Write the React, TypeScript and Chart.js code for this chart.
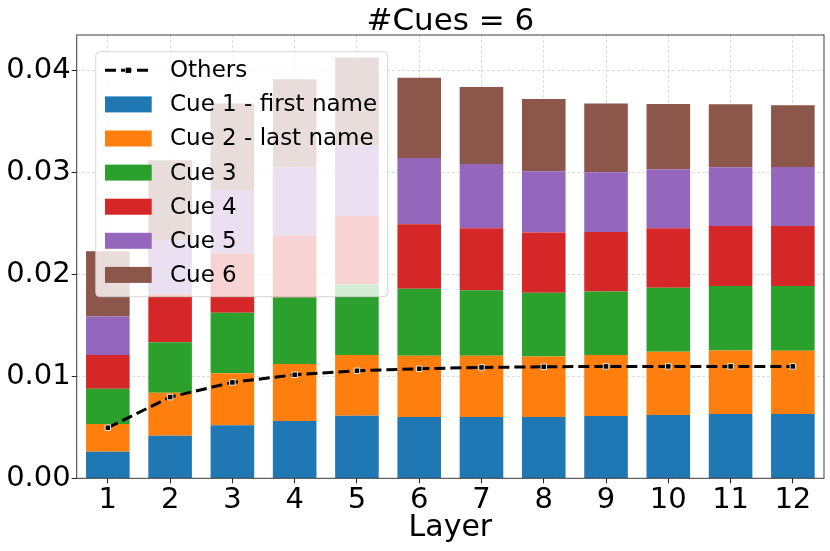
import { useEffect, useRef } from "react";
import { Chart, registerables } from "chart.js";

Chart.register(...registerables);

const layers = ["1", "2", "3", "4", "5", "6", "7", "8", "9", "10", "11", "12"];
const cueNames = ["Cue 1 - first name", "Cue 2 - last name", "Cue 3", "Cue 4", "Cue 5", "Cue 6"];
const cueColors = ["#1f77b4", "#ff7f0e", "#2ca02c", "#d62728", "#9467bd", "#8c564b"];

const cue1 = [0.00261, 0.00418, 0.0052, 0.00562, 0.00614, 0.00601, 0.00601, 0.00601, 0.00611, 0.00621, 0.0063, 0.0063];
const cue2 = [0.00271, 0.00421, 0.00512, 0.00559, 0.00595, 0.00601, 0.00601, 0.00595, 0.00598, 0.0062, 0.00625, 0.00621];
const cue3 = [0.00346, 0.00497, 0.00592, 0.00654, 0.00696, 0.00657, 0.00644, 0.00624, 0.00624, 0.00628, 0.00633, 0.00637];
const cue4 = [0.00331, 0.0047, 0.00582, 0.0061, 0.0067, 0.00634, 0.00608, 0.00592, 0.00585, 0.00585, 0.00588, 0.00588];
const cue5 = [0.00379, 0.0053, 0.00623, 0.00667, 0.0069, 0.0065, 0.0063, 0.00601, 0.00585, 0.00578, 0.00576, 0.00579];
const cue6 = [0.0064, 0.00785, 0.0085, 0.00863, 0.00865, 0.00788, 0.00755, 0.00709, 0.00676, 0.00641, 0.00618, 0.00605];
const others = [0.00496, 0.00797, 0.00941, 0.01016, 0.01055, 0.01075, 0.01088, 0.01094, 0.01098, 0.01098, 0.01098, 0.01098];

const yTicks = [0, 0.01, 0.02, 0.03, 0.04];
const cueValues = [cue1, cue2, cue3, cue4, cue5, cue6];

const FONT = "'DejaVu Sans', sans-serif";
const TITLE = "#Cues = 6";

// title centred on the axes, frame, and a matplotlib-style legend over the bars
const boxLegend = {
    id: "boxLegend",
    afterDraw(chart: any) {
        const { ctx, chartArea } = chart;
        ctx.save();

        ctx.fillStyle = "#000";
        ctx.font = `31px ${FONT}`;
        ctx.textAlign = "center";
        ctx.textBaseline = "alphabetic";
        ctx.fillText(TITLE, (chartArea.left + chartArea.right) / 2, chartArea.top - 5);

        ctx.strokeStyle = "#3c3c3c";
        ctx.lineWidth = 1;
        ctx.setLineDash([]);
        ctx.strokeRect(chartArea.left, chartArea.top, chartArea.right - chartArea.left, chartArea.bottom - chartArea.top);

        const x = chartArea.left + 19;
        const y = chartArea.top + 16.7;
        const w = 292;
        const h = 245;
        ctx.beginPath();
        ctx.roundRect(x, y, w, h, 4);
        ctx.fillStyle = "rgba(255,255,255,0.8)";
        ctx.fill();
        ctx.strokeStyle = "rgba(204,204,204,0.8)";
        ctx.stroke();

        const rowGap = 34.1;
        const firstRow = y + 18.6;
        const sx = x + 9.3;
        const sw = 46.7;
        const tx = x + 74.3;

        ctx.font = `23px ${FONT}`;
        ctx.textBaseline = "middle";
        ctx.textAlign = "left";

        // Others: dashed line with a square marker
        ctx.strokeStyle = "#000";
        ctx.lineWidth = 3;
        ctx.setLineDash([11, 5]);
        ctx.beginPath();
        ctx.moveTo(sx, firstRow);
        ctx.lineTo(sx + sw, firstRow);
        ctx.stroke();
        ctx.setLineDash([]);
        ctx.fillStyle = "#e8e8e8";
        ctx.fillRect(sx + sw / 2 - 3.3, firstRow - 3.3, 6.6, 6.6);
        ctx.fillStyle = "#000";
        ctx.fillRect(sx + sw / 2 - 2.6, firstRow - 2.6, 5.2, 5.2);
        ctx.fillText("Others", tx, firstRow + 1);

        cueNames.forEach((name, i) => {
            const cy = firstRow + rowGap * (i + 1);
            ctx.fillStyle = cueColors[i];
            ctx.fillRect(sx, cy - 8, sw, 16);
            ctx.fillStyle = "#000";
            ctx.fillText(name, tx, cy + 1);
        });

        ctx.restore();
    },
};

export default function App() {
    const canvasRef = useRef<HTMLCanvasElement | null>(null);
    const chartRef = useRef<Chart | null>(null);

    useEffect(() => {
        if (!canvasRef.current) return;
        if (chartRef.current) chartRef.current.destroy();

        const barSets: any[] = cueValues.map((vals, i) => ({
            type: "bar",
            label: cueNames[i],
            data: vals,
            backgroundColor: cueColors[i],
            borderWidth: 0,
            stack: "cues",
            barPercentage: 0.7,
            categoryPercentage: 1.0,
            order: 2,
        }));

        chartRef.current = new Chart(canvasRef.current, {
            type: "bar",
            data: {
                labels: layers,
                datasets: [
                    {
                        type: "line",
                        label: "Others",
                        data: others,
                        borderColor: "#000",
                        borderWidth: 3,
                        borderDash: [11, 5],
                        pointStyle: "rect",
                        pointRadius: 3.9,
                        pointBackgroundColor: "#000",
                        pointBorderColor: "#e8e8e8",
                        pointBorderWidth: 1,
                        tension: 0,
                        stack: "others",
                        order: 0,
                    } as any,
                    ...barSets,
                ],
            },
            options: {
                animation: false,
                responsive: true,
                maintainAspectRatio: false,
                layout: { padding: { left: 0, right: 6, top: 35, bottom: 0 } },
                plugins: {
                    legend: { display: false },
                    tooltip: { enabled: false },
                    title: { display: false },
                },
                scales: {
                    x: {
                        stacked: true,
                        offset: true,
                        z: 1,
                        grid: {
                            offset: false,
                            color: "rgba(176,176,176,0.55)",
                            lineWidth: 0.8,
                            tickColor: "#222",
                            tickLength: 5,
                            tickWidth: 1,
                            tickBorderDash: [],
                        },
                        border: { display: false, dash: [3, 2] },
                        ticks: {
                            color: "#000",
                            font: { family: FONT, size: 29 },
                            padding: 0,
                            maxRotation: 0,
                        },
                        title: {
                            display: true,
                            text: "Layer",
                            color: "#000",
                            font: { family: FONT, size: 30 },
                            padding: { top: 0, bottom: 5 },
                        },
                        afterFit(scale: any) {
                            scale.height = 72.7;
                        },
                    },
                    y: {
                        stacked: true,
                        min: 0,
                        max: 0.0435,
                        z: 1,
                        grid: {
                            color: "rgba(176,176,176,0.55)",
                            lineWidth: 0.8,
                            tickColor: "#222",
                            tickLength: 5,
                            tickWidth: 1,
                            tickBorderDash: [],
                        },
                        border: { display: false, dash: [3, 2] },
                        afterBuildTicks(scale: any) {
                            scale.ticks = yTicks.map((v) => ({ value: v }));
                        },
                        ticks: {
                            color: "#000",
                            font: { family: FONT, size: 29 },
                            padding: 1,
                            callback: (v: any) => Number(v).toFixed(2),
                        },
                        afterFit(scale: any) {
                            scale.width = 76.7;
                        },
                    },
                },
            },
            plugins: [boxLegend],
        });

        return () => {
            if (chartRef.current) chartRef.current.destroy();
        };
    }, []);

    return (
        <div style={{ position: "absolute", left: 0, top: 0, width: 830, height: 551, background: "#fff" }}>
            <canvas ref={canvasRef} />
        </div>
    );
}
